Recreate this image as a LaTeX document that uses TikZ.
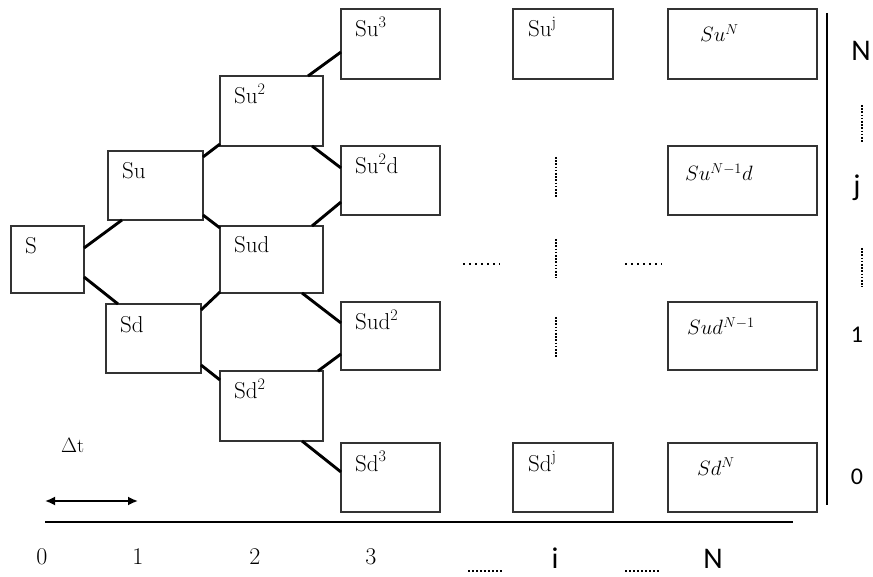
\documentclass[tikz,border=0pt]{standalone}
\usepackage{fontspec}
\newfontfamily\carl{Carlito}
\usetikzlibrary{arrows.meta}
\newcommand\mkcell[9]{%
  \node[cellbox,minimum width=#4pt,minimum height=#5pt] (#1) at (#2,#3) {};
  \node[#8] (#1-t) at ([xshift=#6pt,yshift=-#7pt]#1.north west) {#9};
}
\begin{document}
\begin{tikzpicture}[x=1pt,y=-1pt,
  cellbox/.style={draw=black!80,line width=1.1pt,inner sep=0pt,outer sep=0pt,anchor=north west},
  celltext/.style={anchor=base west,inner sep=0pt,font=\fontsize{23}{27}\selectfont},
  mathtext/.style={anchor=base west,inner sep=0pt,font=\fontsize{21}{25}\selectfont},
  link/.style={line width=2.9pt},
  dotline/.style={line width=2.4pt,dash pattern=on 2.4pt off 3.6pt},
  vdots/.style={line width=1.8pt,dash pattern=on 1.6pt off 1.6pt},
  smalldots/.style={line width=1.6pt,dash pattern=on 1.6pt off 2.4pt},
  sanslab/.style={anchor=base,inner sep=0pt,font=\carl\fontsize{30}{34}\selectfont},
  sansnum/.style={anchor=base,inner sep=0pt,font=\carl\fontsize{24}{28}\selectfont},
  serifnum/.style={anchor=base,inner sep=0pt,font=\fontsize{24}{28}\selectfont},
  axis/.style={line width=1.9pt}
]
\useasboundingbox (0,0) rectangle (873,577);

% boxes
\mkcell{S}{11}{226}{73}{67}{14}{28}{celltext}{S}
\mkcell{Su}{108}{151}{95}{69}{14}{28}{celltext}{Su}
\mkcell{Sd}{106}{304}{95}{69}{14}{29}{celltext}{Sd}
\mkcell{Su2}{220}{76}{103}{70}{14}{28}{celltext}{Su\textsuperscript{2}}
\mkcell{Sud}{220}{226}{103}{67}{14}{27}{celltext}{Sud}
\mkcell{Sd2}{220}{371}{103}{70}{14}{28}{celltext}{Sd\textsuperscript{2}}
\mkcell{Su3}{341}{9}{99}{70}{14}{28}{celltext}{Su\textsuperscript{3}}
\mkcell{Su2d}{341}{146}{99}{69}{14}{28}{celltext}{Su\textsuperscript{2}d}
\mkcell{Sud2}{341}{302}{99}{68}{14}{28}{celltext}{Sud\textsuperscript{2}}
\mkcell{Sd3}{341}{443}{99}{69}{14}{28}{celltext}{Sd\textsuperscript{3}}
\mkcell{Suj}{513}{9}{100}{70}{15}{28}{celltext}{Su\textsuperscript{j}}
\mkcell{Sdj}{513}{443}{100}{69}{15}{28}{celltext}{Sd\textsuperscript{j}}
\mkcell{SuN}{668}{9}{149}{70}{32}{33}{mathtext}{$Su^{N}$}
\mkcell{SuNd}{668}{146}{149}{69}{17}{35}{mathtext}{$Su^{N-1}d$}
\mkcell{SudN}{668}{302}{149}{68}{19}{33}{mathtext}{$Sud^{N-1}$}
\mkcell{SdN}{668}{443}{149}{69}{29}{32}{mathtext}{$Sd^{N}$}

% lattice connectors
\draw[link] ([yshift=-22pt]S.north east) -- ([xshift=14pt]Su.south west);
\draw[link] ([yshift=16pt]S.south east) -- ([xshift=12pt]Sd.north west);
\draw[link] ([yshift=-6pt]Su.north east) -- ([yshift=2pt]Su2.south west);
\draw[link] ([yshift=5pt]Su.south east) -- ([yshift=-2pt]Sud.north west);
\draw[link] ([xshift=-11pt]Su2.south east) -- ([yshift=-22pt]Su2d.north west);
\draw[link] ([xshift=-15pt]Su2.north east) -- ([yshift=27pt]Su3.south west);
\draw[link] ([xshift=-11pt]Sud.north east) -- ([yshift=13pt]Su2d.south west);
\draw[link] ([xshift=-21pt]Sud.south east) -- ([yshift=-21pt]Sud2.north west);
\draw[link] ([yshift=-6pt]Sd.north east) -- ([yshift=1pt]Sud.south west);
\draw[link] ([yshift=8pt]Sd.south east) -- ([yshift=-9pt]Sd2.north west);
\draw[link] ([xshift=-5pt]Sd2.north east) -- ([yshift=16pt]Sud2.south west);
\draw[link] ([xshift=-21pt]Sd2.south east) -- ([yshift=-29pt]Sd3.north west);

% dotted continuation marks
\draw[dotline] (463,264) -- (500,264);
\draw[dotline] (625,264) -- (662,264);
\draw[vdots] (556,157) -- (556,197);
\draw[vdots] (556,239) -- (556,278);
\draw[vdots] (556,317) -- (556,357);
\draw[vdots] (862,105) -- (862,143);
\draw[vdots] (862,248) -- (862,287);
\draw[smalldots] (468,571) -- (503,571);
\draw[smalldots] (625,571) -- (660,571);

% axes
\coordinate (hx0) at (45,522);
\coordinate (hx1) at (793,522);
\draw[axis] (hx0) -- (hx1);
\coordinate (vy0) at (827,13);
\coordinate (vy1) at (827,505);
\draw[line width=2.1pt] (vy0) -- (vy1);
\coordinate (dt0) at (45,501);
\coordinate (dt1) at (138,501);
\draw[line width=1.8pt,{Latex[length=10pt,width=9pt]}-{Latex[length=10pt,width=9pt]}] (dt0) -- (dt1);
\node[anchor=base west,inner sep=0pt,font=\fontsize{20}{24}\selectfont] (dtlab) at (61,452) {$\Delta$t};

% bottom labels
\node[serifnum] (b0) at (42,564) {0};
\node[serifnum] (b1) at (138,564) {1};
\node[serifnum] (b2) at (255,564) {2};
\node[serifnum] (b3) at (371,564) {3};
\node[sanslab] (bi) at (555,568) {i};
\node[sanslab] (bN) at (713,568) {N};

% right labels
\node[sanslab] (rN) at (861,61) {N};
\node[sanslab] (rj) at (857,196) {j};
\node[sansnum] (r1) at (857,343) {1};
\node[sansnum] (r0) at (857,484) {0};
\end{tikzpicture}
\end{document}
